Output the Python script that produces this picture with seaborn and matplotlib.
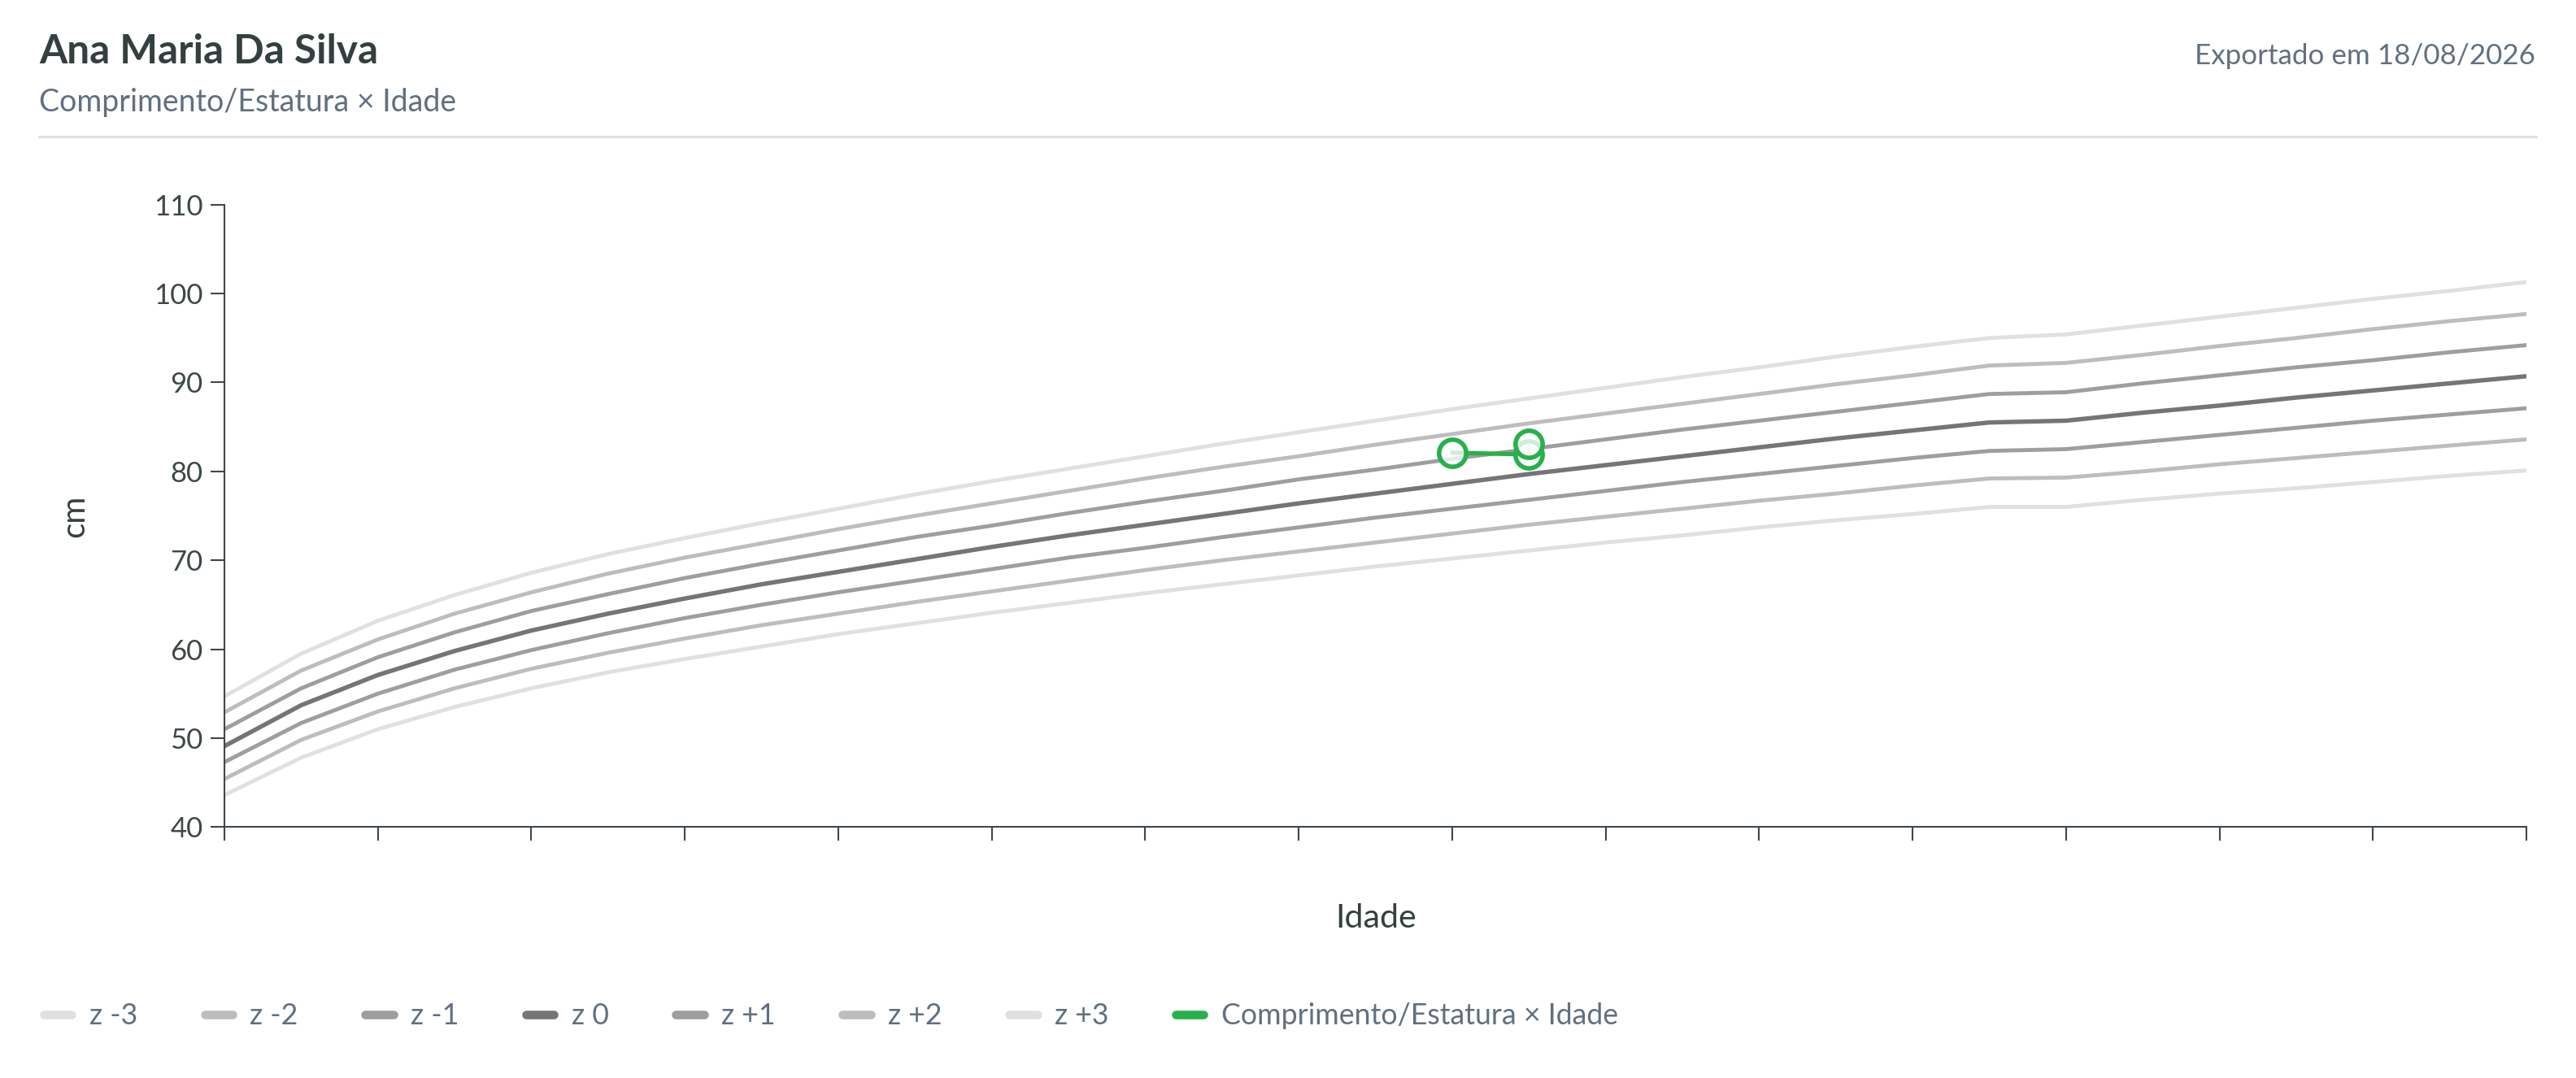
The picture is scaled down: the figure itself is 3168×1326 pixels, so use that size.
import numpy as np
import pandas as pd
import seaborn as sns
import matplotlib.pyplot as plt
from matplotlib.lines import Line2D

# idade em meses; 0-23 comprimento, 24-30 estatura (OMS, meninas)
MESES = [0, 1, 2, 3, 4, 5, 6, 7, 8, 9, 10, 11, 12, 13, 14, 15,
         16, 17, 18, 19, 20, 21, 22, 23, 24, 25, 26, 27, 28, 29, 30]

Z_M3 = [43.6, 47.8, 51.0, 53.5, 55.6, 57.4, 58.9, 60.3, 61.7, 62.9, 64.1, 65.2,
        66.3, 67.3, 68.3, 69.3, 70.2, 71.1, 72.0, 72.8, 73.7, 74.5, 75.2, 76.0,
        76.0, 76.8, 77.5, 78.1, 78.8, 79.5, 80.1]
Z_M2 = [45.4, 49.8, 53.0, 55.6, 57.8, 59.6, 61.2, 62.7, 64.0, 65.3, 66.5, 67.7,
        68.9, 70.0, 71.0, 72.0, 73.0, 74.0, 74.9, 75.8, 76.7, 77.5, 78.4, 79.2,
        79.3, 80.0, 80.8, 81.5, 82.2, 82.9, 83.6]
Z_M1 = [47.3, 51.7, 55.0, 57.7, 59.9, 61.8, 63.5, 65.0, 66.4, 67.7, 69.0, 70.3,
        71.4, 72.6, 73.7, 74.8, 75.8, 76.8, 77.8, 78.8, 79.7, 80.6, 81.5, 82.3,
        82.5, 83.3, 84.1, 84.9, 85.7, 86.4, 87.1]
Z_0 = [49.1, 53.7, 57.1, 59.8, 62.1, 64.0, 65.7, 67.3, 68.7, 70.1, 71.5, 72.8,
       74.0, 75.2, 76.4, 77.5, 78.6, 79.7, 80.7, 81.7, 82.7, 83.7, 84.6, 85.5,
       85.7, 86.6, 87.4, 88.3, 89.1, 89.9, 90.7]
Z_P1 = [51.0, 55.6, 59.1, 61.9, 64.3, 66.2, 68.0, 69.6, 71.1, 72.6, 73.9, 75.3,
        76.6, 77.8, 79.1, 80.2, 81.4, 82.5, 83.6, 84.7, 85.7, 86.7, 87.7, 88.7,
        88.9, 89.9, 90.8, 91.7, 92.5, 93.4, 94.2]
Z_P2 = [52.9, 57.6, 61.1, 64.0, 66.4, 68.5, 70.3, 71.9, 73.5, 75.0, 76.4, 77.8,
        79.2, 80.5, 81.7, 83.0, 84.2, 85.4, 86.5, 87.6, 88.7, 89.8, 90.8, 91.9,
        92.2, 93.1, 94.1, 95.0, 96.0, 96.9, 97.7]
Z_P3 = [54.7, 59.5, 63.2, 66.1, 68.6, 70.7, 72.5, 74.2, 75.8, 77.4, 78.9, 80.3,
        81.7, 83.1, 84.4, 85.7, 87.0, 88.2, 89.4, 90.6, 91.7, 92.9, 94.0, 95.0,
        95.4, 96.4, 97.4, 98.4, 99.4, 100.3, 101.3]

Z_NOMES = ['z -3', 'z -2', 'z -1', 'z 0', 'z +1', 'z +2', 'z +3']
Z_CORES = ['#e0e0e0', '#bdbdbd', '#9e9e9e', '#757575', '#9e9e9e', '#bdbdbd', '#e0e0e0']

# medidas da paciente
MED_MESES = [16, 17, 17]
MED_CM = [82.1, 81.9, 83.1]
MED_NOME = 'Comprimento/Estatura × Idade'

Y_TICKS = [40, 50, 60, 70, 80, 90, 100, 110]
X_TICKS = [0, 2, 4, 6, 8, 10, 12, 14, 16, 18, 20, 22, 24, 26, 28, 30]

VERDE = '#27b04b'
ESCURO = '#34403f'
EIXO = '#3d4947'
CINZA_TXT = '#617080'

sns.set_theme(style='white')
plt.rcParams['font.family'] = ['Lato', 'DejaVu Sans']

fig = plt.figure(figsize=(15.84, 6.63), dpi=200)
ax = fig.add_axes([0.08712, 0.23281, 0.89362, 0.57737])

curvas = [Z_M3, Z_M2, Z_M1, Z_0, Z_P1, Z_P2, Z_P3]
for nome, valores, cor in zip(Z_NOMES, curvas, Z_CORES):
    lw = 1.95 if nome == 'z 0' else 1.75
    sns.lineplot(x=MESES, y=valores, color=cor, linewidth=lw, ax=ax, legend=False)
for ln in ax.get_lines():
    ln.set_solid_joinstyle('round')

sns.lineplot(x=MED_MESES, y=MED_CM, sort=False, estimator=None, color=VERDE,
             linewidth=1.9, marker='o', markersize=12, markerfacecolor=(1, 1, 1, 0.78),
             markeredgecolor=VERDE, markeredgewidth=2.0, ax=ax, legend=False, zorder=5)

ax.set_xlim(0, 30)
ax.set_ylim(40, 110)
ax.set_xticks(X_TICKS)
ax.set_xticklabels([])
ax.set_yticks(Y_TICKS)
ax.set_yticklabels([str(v) for v in Y_TICKS], fontsize=12.5, color=EIXO)
ax.tick_params(axis='both', length=6.1, width=0.75, color=EIXO, direction='out', pad=3.4)
ax.tick_params(axis='x', bottom=True)
ax.tick_params(axis='y', left=True)
sns.despine(ax=ax)
for s in ['left', 'bottom']:
    ax.spines[s].set_color(EIXO)
    ax.spines[s].set_linewidth(0.75)
ax.set_xlabel('')
ax.set_ylabel('')
ax.grid(False)

fig.text(91.7 / 3168, 1 - 634.5 / 1326, 'cm', rotation=90, ha='center', va='center',
         fontsize=14.5, color=ESCURO)
fig.text(1692 / 3168, 1 - 1141 / 1326, 'Idade', ha='center', va='baseline',
         fontsize=14.8, color=ESCURO)

# cabecalho
fig.text(48 / 3168, 1 - 78 / 1326, 'Ana Maria Da Silva', ha='left', va='baseline',
         fontsize=17.8, fontweight='bold', color=ESCURO)
fig.text(48 / 3168, 1 - 137 / 1326, MED_NOME, ha='left', va='baseline',
         fontsize=13.5, color=CINZA_TXT)
fig.text(3118 / 3168, 1 - 79 / 1326, 'Exportado em 18/08/2026', ha='right', va='baseline',
         fontsize=12.6, color=CINZA_TXT)
fig.add_artist(Line2D([48 / 3168, 3119 / 3168], [1 - 167.7 / 1326] * 2,
                      transform=fig.transFigure, color='#dce0e5', linewidth=1.1))

# legenda
handles = [Line2D([], [], color=c, linewidth=3.8, solid_capstyle='round') for c in Z_CORES]
handles.append(Line2D([], [], color=VERDE, linewidth=3.8, solid_capstyle='round'))
labels = Z_NOMES + [MED_NOME]
fig.legend(handles, labels, loc='center left', bbox_to_anchor=(54 / 3168, 1 - 1250 / 1326),
           ncol=8, frameon=False, fontsize=12.9, labelcolor=CINZA_TXT,
           handlelength=0.96, handletextpad=0.6, columnspacing=2.3,
           borderpad=0, borderaxespad=0)

fig.savefig('out.png', dpi=200)
